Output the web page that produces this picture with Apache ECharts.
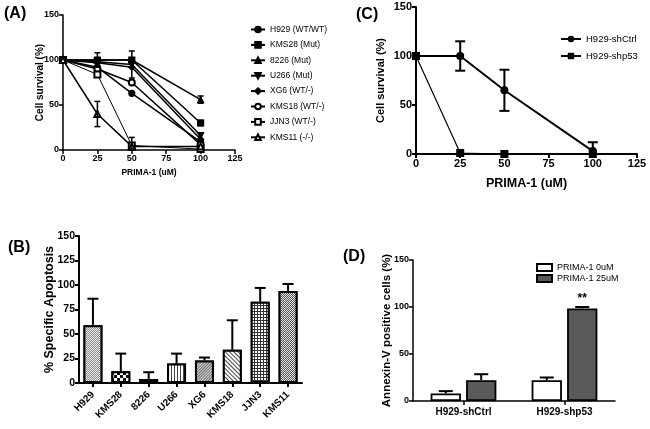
<!DOCTYPE html>
<html><head><meta charset="utf-8">
<script src="https://cdn.jsdelivr.net/npm/echarts@6/dist/echarts.min.js"></script>
<style>html,body{margin:0;padding:0;background:#fff}#c{width:650px;height:429px}</style>
</head><body><div id="c"></div><script>
// ---- Panel A data ----
const doses = [0, 25, 50, 100];
const aNames = ['H929 (WT/WT)','KMS28 (Mut)','8226 (Mut)','U266 (Mut)','XG6 (WT/-)','KMS18 (WT/-)','JJN3 (WT/-)','KMS11 (-/-)'];
const aH929  = [100, 92, 63, 9];
const aKMS28 = [100, 100, 100, 30];
const a8226  = [100, 100, 100, 56];
const aU266  = [100, 98, 95, 16];
const aXG6   = [100, 97, 92, 12];
const aKMS18 = [100, 90, 75, 6];
const aJJN3  = [100, 84, 5, 1];
const aKMS11 = [100, 40, 4, 4];
const eH929  = [0, 0, 0, 0];
const eKMS28 = [0, 8, 0, 3];
const e8226  = [0, 0, 0, 4];
const eU266  = [0, 0, 15, 0];
const eXG6   = [0, 0, 0, 0];
const eKMS18 = [0, 0, 0, 0];
const eJJN3  = [0, 0, 9, 0];
const eKMS11 = [0, 14, 0, 0];
// ---- Panel C data ----
const cNames = ['H929-shCtrl', 'H929-shp53'];
const cShCtrl = [100, 100, 65, 3];
const cShCtrlErr = [0, 15, 21, 9];
const cShp53 = [100, 1, 0, 0];
const cShp53Err = [0, 0, 0, 0];
// ---- Panel B data ----
const bCats = ['H929','KMS28','8226','U266','XG6','KMS18','JJN3','KMS11'];
const bVals = [59, 12, 4, 20, 23, 34, 83, 94];
const bErr  = [27, 18, 7, 10, 3, 30, 14, 7];
// ---- Panel D data ----
const dCats = ['H929-shCtrl', 'H929-shp53'];
const dNames = ['PRIMA-1 0uM', 'PRIMA-1 25uM'];
const d0 = [8, 22];
const d0Err = [2.5, 3];
const d25 = [22, 98.5];
const d25Err = [6.5, 1.5];

const F = 'Liberation Sans, Arial, sans-serif';

function axis(w, fs, bold, extra) {
  return Object.assign({
    axisLine: { show: true, lineStyle: { color: '#000', width: w } },
    axisTick: { show: true, inside: false, length: 4, lineStyle: { color: '#000', width: w } },
    axisLabel: { color: '#000', fontSize: fs, fontWeight: bold ? 'bold' : 'normal', fontFamily: F, margin: 4 },
    splitLine: { show: false },
    nameMoveOverlap: false,
    nameTextStyle: { color: '#000', fontWeight: 'bold', fontFamily: F }
  }, extra);
}

function errSeries(xi, yi, data, capHalf, upOnly, offsetFrac, lw) {
  return {
    type: 'custom', xAxisIndex: xi, yAxisIndex: yi, z: 5, silent: true,
    data: data,
    renderItem: function (params, api) {
      const x = api.value(0), y = api.value(1), e = api.value(2);
      const off = offsetFrac ? api.size([1, 0])[0] * offsetFrac : 0;
      const top = api.coord([x, y + e]);
      const bot = api.coord([x, upOnly ? y : Math.max(0, y - e)]);
      const cx = top[0] + off;
      const ch = [];
      ch.push({ type: 'line', shape: { x1: cx, y1: top[1], x2: cx, y2: bot[1] }, style: { stroke: '#000', lineWidth: lw } });
      ch.push({ type: 'line', shape: { x1: cx - capHalf, y1: top[1], x2: cx + capHalf, y2: top[1] }, style: { stroke: '#000', lineWidth: lw } });
      if (!upOnly) ch.push({ type: 'line', shape: { x1: cx - capHalf, y1: bot[1], x2: cx + capHalf, y2: bot[1] }, style: { stroke: '#000', lineWidth: lw } });
      return { type: 'group', children: ch };
    }
  };
}

const aVals = [aH929, aKMS28, a8226, aU266, aXG6, aKMS18, aJJN3, aKMS11];
const aErrs = [eH929, eKMS28, e8226, eU266, eXG6, eKMS18, eJJN3, eKMS11];
const aSymbols = ['circle', 'rect', 'triangle', 'triangle', 'diamond', 'emptyCircle', 'emptyRect', 'emptyTriangle'];
const aRot = [0, 0, 0, 180, 0, 0, 0, 0];
const aWidth = [1.5, 1.5, 1.5, 1.5, 1.5, 1.5, 1, 1.5];

const series = [];
aNames.forEach((n, i) => {
  series.push({
    type: 'line', name: n, xAxisIndex: 0, yAxisIndex: 0,
    data: doses.map((d, j) => [d, aVals[i][j]]),
    symbol: aSymbols[i], symbolRotate: aRot[i], symbolSize: 6,
    color: '#000', itemStyle: { color: '#000', borderColor: '#000', borderWidth: 1.2 },
    lineStyle: { color: '#000', width: aWidth[i] }, z: 3
  });
  const ed = [];
  doses.forEach((d, j) => { if (aErrs[i][j] > 0) ed.push([d, aVals[i][j], aErrs[i][j]]); });
  if (ed.length) series.push(errSeries(0, 0, ed, 3, false, 0, 1.5));
});

const cVals = [cShCtrl, cShp53];
const cErrs = [cShCtrlErr, cShp53Err];
const cSym = ['circle', 'rect'];
const cW = [2, 1.2];
cNames.forEach((n, i) => {
  series.push({
    type: 'line', name: n, xAxisIndex: 1, yAxisIndex: 1,
    data: doses.map((d, j) => [d, cVals[i][j]]),
    symbol: cSym[i], symbolSize: 8,
    color: '#000', itemStyle: { color: '#000' },
    lineStyle: { color: '#000', width: cW[i] }, z: 3
  });
  const ed = [];
  doses.forEach((d, j) => { if (cErrs[i][j] > 0) ed.push([d, cVals[i][j], cErrs[i][j]]); });
  if (ed.length) series.push(errSeries(1, 1, ed, 5, false, 0, 2));
});

const decals = [
  { symbol: 'rect', symbolSize: 1, dashArrayX: [[1, 1], [0, 1, 1, 0]], dashArrayY: [1, 0], color: '#8a8a8a', backgroundColor: '#eeeeee' },
  { symbol: 'rect', symbolSize: 1, dashArrayX: [[3, 3], [0, 3, 3, 0]], dashArrayY: [3, 0], color: '#111', backgroundColor: '#fff' },
  { symbol: 'rect', symbolSize: 1, dashArrayX: [[1, 2], [0, 2, 1, 0]], dashArrayY: [1, 0], color: '#bbb', backgroundColor: '#fff' },
  { symbol: 'rect', symbolSize: 1, dashArrayX: [1, 2], dashArrayY: [1, 0], color: '#444', backgroundColor: '#fff' },
  { symbol: 'rect', symbolSize: 1, dashArrayX: [1, 1], dashArrayY: [1, 0], rotation: Math.PI / 4, color: '#666', backgroundColor: '#ddd' },
  { symbol: 'rect', symbolSize: 1, dashArrayX: [1, 2], dashArrayY: [1, 0], rotation: -Math.PI / 4, color: '#444', backgroundColor: '#fff' },
  { symbol: 'rect', symbolSize: 1, dashArrayX: [2, 1], dashArrayY: [2, 1], color: '#fff', backgroundColor: '#333' },
  { symbol: 'rect', symbolSize: 1, dashArrayX: [[1, 1], [0, 1, 1, 0]], dashArrayY: [1, 0], color: '#555', backgroundColor: '#e5e5e5' }
];
series.push({
  type: 'bar', xAxisIndex: 2, yAxisIndex: 2, barWidth: '68%',
  data: bVals.map((v, i) => ({ value: v, itemStyle: { color: '#fff', borderColor: '#000', borderWidth: 2, decal: decals[i] } })),
  z: 2
});
series.push(errSeries(2, 2, bVals.map((v, i) => [i, v, bErr[i]]), 5.5, true, 0, 2));

series.push({
  type: 'bar', name: dNames[0], xAxisIndex: 3, yAxisIndex: 3, barWidth: '30%', barGap: '17%',
  data: d0, itemStyle: { color: '#fff', borderColor: '#000', borderWidth: 1.8 }, z: 2
});
series.push({
  type: 'bar', name: dNames[1], xAxisIndex: 3, yAxisIndex: 3, barWidth: '30%', barGap: '17%',
  data: d25.map((v, i) => i === 1 ? { value: v, label: { show: true, position: 'top', distance: 4, formatter: '**', fontSize: 12, fontWeight: 'bold', color: '#000', fontFamily: F } } : v),
  itemStyle: { color: '#5a5a5a', borderColor: '#000', borderWidth: 1.8 }, z: 2
});
series.push(errSeries(3, 3, d0.map((v, i) => [i, v, d0Err[i]]), 7, true, -0.1755, 2));
series.push(errSeries(3, 3, d25.map((v, i) => [i, v, d25Err[i]]), 7, true, 0.1755, 2));

const option = {
  animation: false,
  backgroundColor: '#fff',
  textStyle: { fontFamily: F },
  grid: [
    { left: 63, top: 15, width: 172, height: 135 },
    { left: 416, top: 7, width: 221, height: 147 },
    { left: 79, top: 236, width: 223, height: 147 },
    { left: 413, top: 260, width: 202, height: 141 }
  ],
  xAxis: [
    axis(1.5, 9, true, { type: 'value', gridIndex: 0, min: 0, max: 125, interval: 25, name: 'PRIMA-1 (uM)', nameLocation: 'middle', nameGap: 18.5, nameTextStyle: { color: '#000', fontWeight: 'bold', fontFamily: F, fontSize: 8.5 } }),
    axis(2, 11, true, { type: 'value', gridIndex: 1, min: 0, max: 125, interval: 25, name: 'PRIMA-1 (uM)', nameLocation: 'middle', nameGap: 23, nameTextStyle: { color: '#000', fontWeight: 'bold', fontFamily: F, fontSize: 12.5 } }),
    axis(2, 10, true, { type: 'category', gridIndex: 2, data: bCats, axisTick: { show: true, alignWithLabel: true, length: 4, lineStyle: { color: '#000', width: 2 } }, axisLabel: { color: '#000', fontSize: 10, fontWeight: 'bold', fontFamily: F, rotate: 45, margin: 10, interval: 0 } }),
    axis(1.5, 10, true, { type: 'category', gridIndex: 3, data: dCats, axisTick: { show: true, alignWithLabel: true, length: 4, lineStyle: { color: '#000', width: 1.5 } }, axisLabel: { color: '#000', fontSize: 10, fontWeight: 'bold', fontFamily: F, margin: 6 } })
  ],
  yAxis: [
    axis(1.5, 9, true, { type: 'value', gridIndex: 0, min: 0, max: 150, interval: 50, name: 'Cell survival (%)', nameLocation: 'middle', nameGap: 18, nameTextStyle: { color: '#000', fontWeight: 'bold', fontFamily: F, fontSize: 10 } }),
    axis(2, 11, true, { type: 'value', gridIndex: 1, min: 0, max: 150, interval: 50, name: 'Cell survival (%)', nameLocation: 'middle', nameGap: 30, nameTextStyle: { color: '#000', fontWeight: 'bold', fontFamily: F, fontSize: 11 } }),
    axis(2, 10.5, true, { type: 'value', gridIndex: 2, min: 0, max: 150, interval: 25, name: '% Specific Apoptosis', nameLocation: 'middle', nameGap: 23, nameTextStyle: { color: '#000', fontWeight: 'bold', fontFamily: F, fontSize: 12.5 } }),
    axis(1.5, 9, true, { type: 'value', gridIndex: 3, min: 0, max: 150, interval: 50, name: 'Annexin-V positive cells (%)', nameLocation: 'middle', nameGap: 20, nameTextStyle: { color: '#000', fontWeight: 'bold', fontFamily: F, fontSize: 11.5 } })
  ],
  legend: [
    { orient: 'vertical', left: 245, top: 20, itemWidth: 14, itemHeight: 7, itemGap: 6.4, data: aNames, textStyle: { fontSize: 8.5, color: '#000', fontFamily: F }, selectedMode: false },
    { orient: 'vertical', left: 555, top: 29, itemWidth: 20, itemHeight: 8, itemGap: 7, data: cNames, textStyle: { fontSize: 9.5, color: '#000', fontFamily: F }, selectedMode: false },
    { orient: 'vertical', left: 531, top: 258, itemWidth: 15, itemHeight: 7, itemGap: 2, icon: 'rect', data: dNames, textStyle: { fontSize: 9, color: '#000', fontFamily: F }, selectedMode: false }
  ],
  graphic: [
    { type: 'text', left: 4, top: 6, style: { text: '(A)', font: 'bold 16px ' + F, fill: '#000' } },
    { type: 'text', left: 356, top: 7, style: { text: '(C)', font: 'bold 16px ' + F, fill: '#000' } },
    { type: 'text', left: 8, top: 240, style: { text: '(B)', font: 'bold 16px ' + F, fill: '#000' } },
    { type: 'text', left: 343, top: 249, style: { text: '(D)', font: 'bold 16px ' + F, fill: '#000' } }
  ],
  series: series
};
echarts.init(document.getElementById('c'), null, { renderer: 'canvas' }).setOption(option);
</script></body></html>
